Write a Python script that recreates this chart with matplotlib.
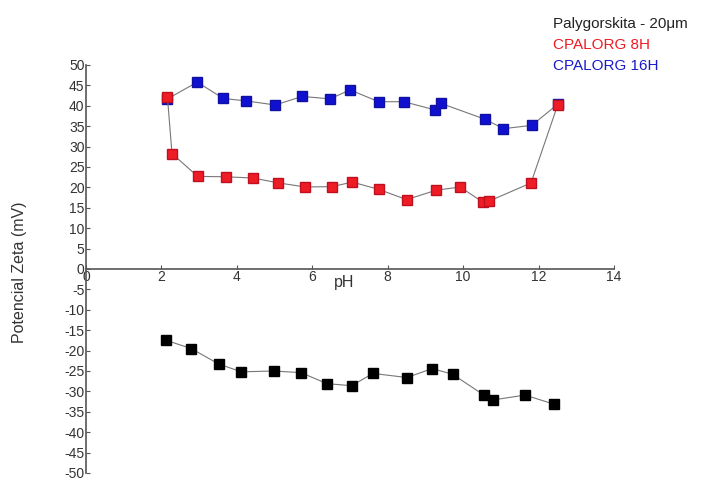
import numpy as np
import matplotlib.pyplot as plt

plt.rcParams['font.family'] = ['Liberation Sans', 'DejaVu Sans']
plt.rcParams['axes.unicode_minus'] = False

# Palygorskita - 20um (natural)
ph_paly = [2.13, 2.79, 3.52, 4.12, 4.98, 5.70, 6.39, 7.04, 7.61, 8.51,
           9.18, 9.72, 10.55, 10.79, 11.64, 12.40]
zeta_paly = [-17.5, -19.5, -23.3, -25.2, -25.0, -25.4, -28.1, -28.6, -25.6, -26.6,
             -24.4, -25.8, -30.9, -32.1, -30.9, -33.1]

# CPALORG 8H
ph_8h = [2.16, 2.28, 2.96, 3.71, 4.43, 5.10, 5.82, 6.53, 7.06, 7.77,
         8.50, 9.28, 9.92, 10.52, 10.68, 11.80, 12.51]
zeta_8h = [42.1, 28.3, 22.7, 22.6, 22.3, 21.1, 20.1, 20.2, 21.3, 19.5,
           17.0, 19.3, 20.1, 16.4, 16.6, 21.1, 40.3]

# CPALORG 16H
ph_16h = [2.16, 2.95, 3.64, 4.24, 5.02, 5.73, 6.47, 7.00, 7.76, 8.43,
          9.25, 9.41, 10.58, 11.07, 11.82, 12.51]
zeta_16h = [41.7, 45.8, 41.8, 41.2, 40.2, 42.3, 41.7, 43.9, 41.0, 41.0,
            39.0, 40.6, 36.7, 34.4, 35.2, 40.4]

fig = plt.figure(figsize=(7.18, 4.82), dpi=100)
ax = fig.add_axes([86/718, 9/482, 528/718, 408/482])

line_kw = dict(color='#777777', lw=0.8, marker='s', markersize=7.5)
ax.plot(ph_paly, zeta_paly, mfc='black', mec='black', **line_kw)
ax.plot(ph_16h, zeta_16h, mfc='#1010d0', mec='#1010a0', **line_kw)
ax.plot(ph_8h, zeta_8h, mfc='#ee1c24', mec='#c01020', **line_kw)

ax.set_xlim(0, 14)
ax.set_ylim(-50, 50)
ax.set_xticks(np.arange(0, 15, 2))
ax.set_yticks(np.arange(-50, 51, 5))

ax.spines['left'].set_position(('data', 0))
ax.spines['bottom'].set_position(('data', 0))
ax.spines['top'].set_visible(False)
ax.spines['right'].set_visible(False)
for s in ['left', 'bottom']:
    ax.spines[s].set_color('#555555')
    ax.spines[s].set_linewidth(1.2)

ax.tick_params(axis='both', direction='in', length=3, width=0.8, color='#555555',
               labelsize=10, labelcolor='#333333', pad=1)
ax.set_facecolor('none')

ax.text(6.85, -1.5, 'pH', fontsize=11.5, color='#333333', ha='center', va='top')
fig.text(20/718, 1 - 272/482, 'Potencial Zeta (mV)', rotation=90, fontsize=11.5,
         color='#333333', ha='center', va='center')

fig.text(553/718, 1 - 24/482, 'Palygorskita - 20\u03bcm', fontsize=11, color='#222222', va='center')
fig.text(553/718, 1 - 45/482, 'CPALORG 8H', fontsize=11, color='#ee1c24', va='center')
fig.text(553/718, 1 - 66/482, 'CPALORG 16H', fontsize=11, color='#1a1ac8', va='center')

plt.savefig('out.png', dpi=100)
